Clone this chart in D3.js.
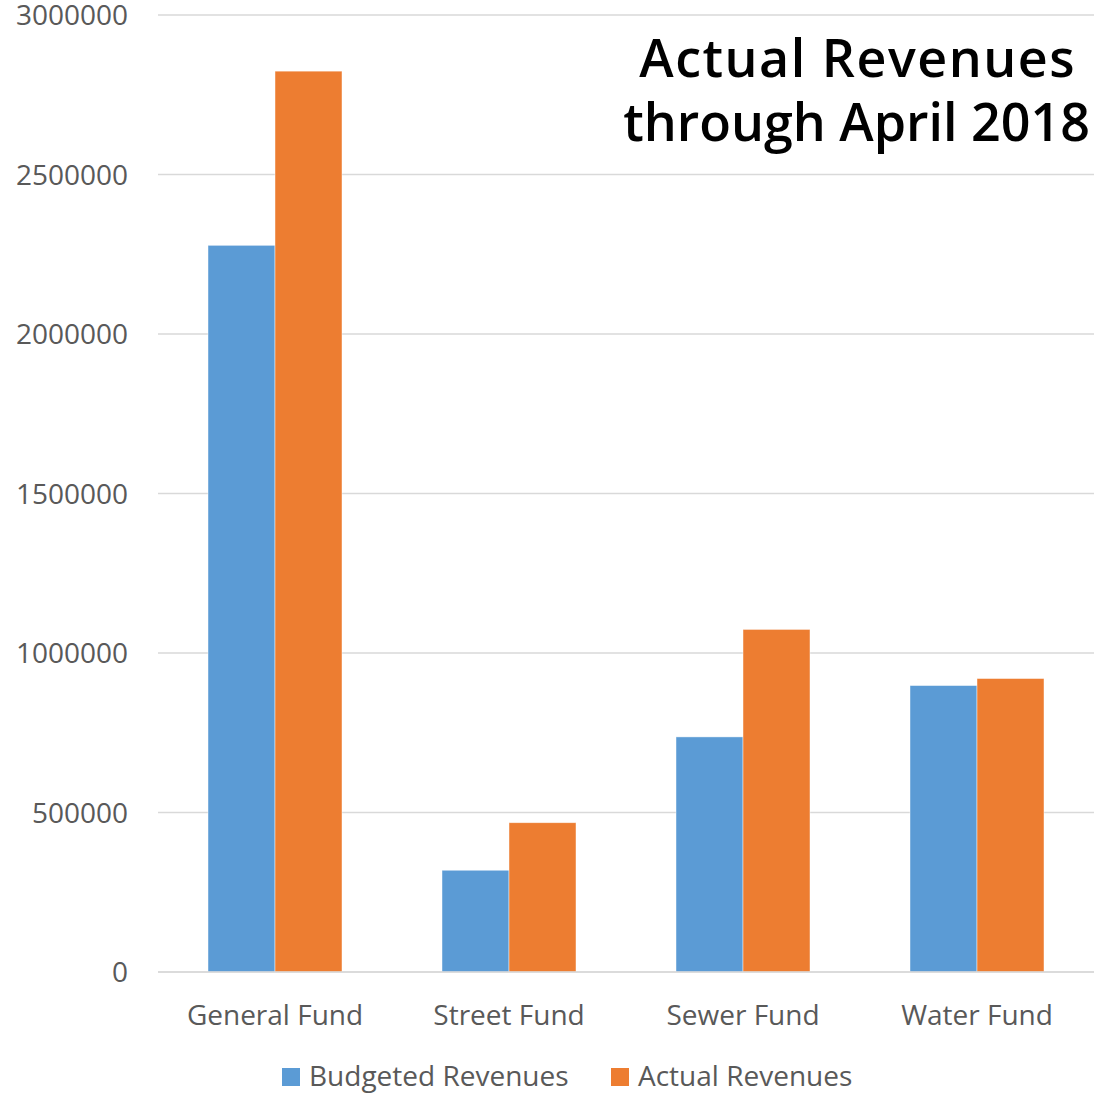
<!DOCTYPE html>
<html>
<head>
<meta charset="utf-8">
<script src="https://cdn.jsdelivr.net/npm/d3@7"></script>
<style>
  html, body { margin: 0; padding: 0; background: #fff; }
  svg { display: block; }
</style>
</head>
<body>
<div id="chart"></div>
<script>
// Fund categories and revenue series
const categories = ["General Fund", "Street Fund", "Sewer Fund", "Water Fund"];
const seriesNames = ["Budgeted Revenues", "Actual Revenues"];
const budgeted = [2278000, 319000, 737000, 898000];
const actual = [2824000, 468000, 1074000, 920000];
const tickValues = [0, 500000, 1000000, 1500000, 2000000, 2500000, 3000000];
const titleLines = ["Actual Revenues", "through April 2018"];

const colors = ["#5B9BD5", "#ED7D31"];
const W = 1096, H = 1094;
const margin = { left: 158, right: 2, top: 15, bottom: 122 };

const rows = categories.map((c, i) => ({ cat: c, values: [budgeted[i], actual[i]] }));

const svg = d3.select("#chart").append("svg")
  .attr("width", W).attr("height", H);

const x0 = d3.scaleBand()
  .domain(categories)
  .range([margin.left, W - margin.right])
  .paddingInner(100 / 234)
  .paddingOuter(50 / 234);

const x1 = d3.scaleBand()
  .domain(seriesNames)
  .range([0, x0.bandwidth()]);

const y = d3.scaleLinear()
  .domain([0, 3000000])
  .range([H - margin.bottom, margin.top]);

const font = "'Open Sans', 'Noto Sans', sans-serif";
const labelSize = "28px";

// Horizontal gridlines
svg.append("g")
  .selectAll("line")
  .data(tickValues)
  .join("line")
  .attr("x1", margin.left)
  .attr("x2", W - margin.right)
  .attr("y1", d => y(d))
  .attr("y2", d => y(d))
  .attr("stroke", "#d9d9d9")
  .attr("stroke-width", 1.5);

// Y axis labels
const yAxis = d3.axisLeft(y)
  .tickValues(tickValues)
  .tickFormat(d3.format("d"))
  .tickSize(0)
  .tickPadding(0);
const yg = svg.append("g")
  .attr("transform", `translate(${margin.left - 30},0)`)
  .call(yAxis);
yg.select(".domain").remove();
yg.selectAll("text")
  .attr("fill", "#595959")
  .attr("dy", "0.34em")
  .style("font-family", font)
  .style("font-size", labelSize);

// Bars
const groups = svg.append("g")
  .selectAll("g")
  .data(rows)
  .join("g")
  .attr("transform", d => `translate(${x0(d.cat)},0)`);

groups.selectAll("rect")
  .data(d => d.values.map((v, i) => ({ key: seriesNames[i], value: v, i })))
  .join("rect")
  .attr("x", d => x1(d.key))
  .attr("width", x1.bandwidth())
  .attr("y", d => y(d.value))
  .attr("height", d => y(0) - y(d.value))
  .attr("fill", d => colors[d.i])
  .attr("stroke", "#ffffff")
  .attr("stroke-opacity", 0.6)
  .attr("stroke-width", 0.75);

// X axis baseline
svg.append("line")
  .attr("x1", margin.left)
  .attr("x2", W - margin.right)
  .attr("y1", y(0))
  .attr("y2", y(0))
  .attr("stroke", "#d9d9d9")
  .attr("stroke-width", 1.5);

// Category labels
const xAxis = d3.axisBottom(x0).tickSize(0).tickPadding(0);
const xg = svg.append("g")
  .attr("transform", `translate(0,${y(0) + 33})`)
  .call(xAxis);
xg.select(".domain").remove();
xg.selectAll("text")
  .attr("fill", "#595959")
  .attr("dy", "0.71em")
  .style("font-family", font)
  .style("font-size", labelSize);

// Legend
const legendItems = [
  { name: seriesNames[0], color: colors[0], x: 282 },
  { name: seriesNames[1], color: colors[1], x: 611 }
];
const lg = svg.append("g").selectAll("g")
  .data(legendItems)
  .join("g")
  .attr("transform", d => `translate(${d.x},1068)`);
lg.append("rect")
  .attr("width", 18).attr("height", 18)
  .attr("fill", d => d.color);
lg.append("text")
  .attr("x", 27).attr("y", 18)
  .attr("fill", "#595959")
  .style("font-family", font)
  .style("font-size", labelSize)
  .text(d => d.name);

// Title
const title = svg.append("text")
  .attr("text-anchor", "end")
  .attr("fill", "#000")
  .style("font-family", font)
  .style("font-weight", 600)
  .style("font-size", "52px");
title.selectAll("tspan")
  .data(titleLines)
  .join("tspan")
  .attr("x", (d, i) => i === 0 ? 1076 : 1090)
  .attr("y", (d, i) => 77 + i * 64)
  .style("letter-spacing", (d, i) => i === 0 ? "1.5px" : "0px")
  .text(d => d);
</script>
</body>
</html>
